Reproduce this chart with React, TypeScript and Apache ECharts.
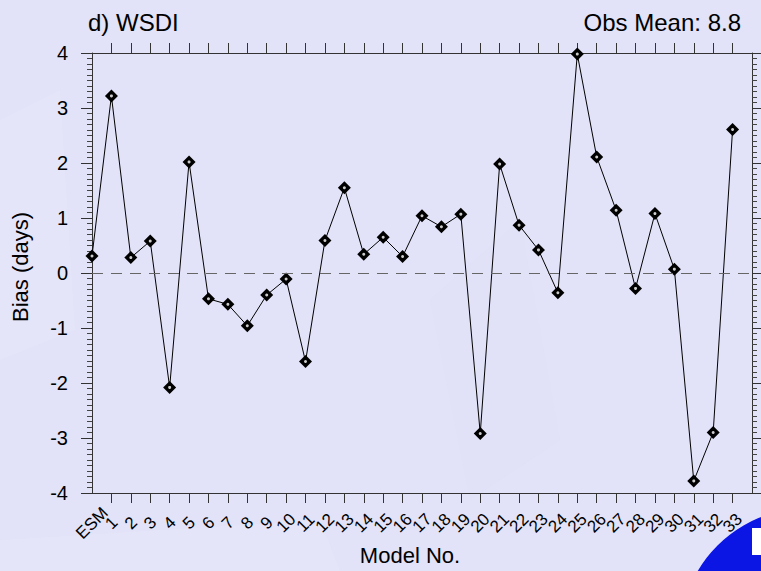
import React, { useEffect, useRef } from "react";
import * as echarts from "echarts";

const modelLabels: string[] = ["ESM", "1", "2", "3", "4", "5", "6", "7", "8", "9", "10", "11", "12", "13", "14", "15", "16", "17", "18", "19", "20", "21", "22", "23", "24", "25", "26", "27", "28", "29", "30", "31", "32", "33"];
const biasValues: number[] = [0.31, 3.22, 0.28, 0.58, -2.08, 2.02, -0.47, -0.57, -0.96, -0.4, -0.11, -1.61, 0.59, 1.55, 0.34, 0.65, 0.3, 1.04, 0.84, 1.07, -2.92, 1.98, 0.87, 0.42, -0.36, 3.98, 2.11, 1.14, -0.28, 1.08, 0.07, -3.78, -2.9, 2.61];
const yTicks: number[] = [-4, -3, -2, -1, 0, 1, 2, 3, 4];
const titleText = "d) WSDI";
const obsMeanText = "Obs Mean: 8.8";
const yAxisTitle = "Bias (days)";
const xAxisTitle = "Model No.";

const FONT = "'Liberation Sans', Arial, Helvetica, sans-serif";
const AXIS_COLOR = "#333";

export default function App() {
  const ref = useRef<HTMLDivElement>(null);
  useEffect(() => {
    if (!ref.current) return;
    const chart = echarts.init(ref.current, undefined, { renderer: "svg" });
    const idx = modelLabels.map((_, i) => i);
    const tickIdx = idx.slice(1);
    const evenIdx = idx.filter((i) => i % 2 === 0);
    const oddIdx = idx.filter((i) => i % 2 === 1);
    const points = biasValues.map((v, i) => [i, v]);
    const labelStyle = {
      show: true,
      showMinLabel: true,
      showMaxLabel: true,
      formatter: (v: number) => modelLabels[Math.round(v)] ?? "",
      rotate: 45,
      align: "center",
      verticalAlign: "middle",
      margin: 30,
      fontSize: 17,
      color: "#000",
      fontFamily: FONT,
    };
    const xBase = {
      type: "value" as const,
      min: 0,
      max: modelLabels.length,
      interval: 1,
      splitLine: { show: false },
      axisLine: { show: true, onZero: false, lineStyle: { color: AXIS_COLOR, width: 1 } },
      axisTick: { show: true, inside: false, length: 10, customValues: tickIdx, lineStyle: { color: AXIS_COLOR, width: 1 } },
    };
    const yBase = {
      type: "value" as const,
      min: -4,
      max: 4,
      interval: 1,
      splitLine: { show: false },
      axisLine: { show: true, onZero: false, lineStyle: { color: AXIS_COLOR, width: 1 } },
      axisTick: { show: true, inside: false, length: 11, lineStyle: { color: AXIS_COLOR, width: 1 } },
      minorTick: { show: true, splitNumber: 10, length: 5, lineStyle: { color: "#444", width: 1 } },
    };
    chart.setOption({
      animation: false,
      backgroundColor: "#E2E2F8",
      grid: { left: 92, right: 9, top: 53, bottom: 78, containLabel: false },
      xAxis: [
        { ...xBase, position: "bottom", axisLabel: { ...labelStyle, customValues: evenIdx } },
        { ...xBase, position: "top", axisLabel: { show: false } },
        {
          ...xBase,
          position: "bottom",
          axisLine: { show: false },
          axisTick: { show: false },
          axisLabel: { ...labelStyle, customValues: oddIdx },
        },
      ],
      yAxis: [
        {
          ...yBase,
          position: "left",
          axisLabel: {
            show: true,
            customValues: yTicks,
            showMinLabel: true,
            showMaxLabel: true,
            margin: 24,
            fontSize: 20,
            color: "#000",
            fontFamily: FONT,
          },
        },
        { ...yBase, position: "right", axisLabel: { show: false } },
      ],
      series: [
        {
          type: "line",
          xAxisIndex: 0,
          yAxisIndex: 0,
          data: points,
          clip: false,
          symbol: "diamond",
          symbolSize: 13,
          lineStyle: { color: "#000", width: 1 },
          itemStyle: { color: "#000", borderColor: "#000", borderWidth: 0 },
          markLine: {
            silent: true,
            symbol: "none",
            label: { show: false },
            lineStyle: { color: "#666", width: 1, type: [11, 8] },
            data: [{ yAxis: 0 }],
          },
          z: 2,
        },
        {
          type: "scatter",
          xAxisIndex: 0,
          yAxisIndex: 0,
          data: points,
          clip: false,
          symbol: "circle",
          symbolSize: 3,
          itemStyle: { color: "#fff" },
          z: 3,
        },
      ],
      graphic: [
        {
          type: "polygon",
          shape: { points: [[0, 120], [60, 90], [75, 330], [0, 360]] },
          style: { fill: "#E8E8FA", opacity: 0.6 },
          z: -2,
          silent: true,
        },
        {
          type: "polygon",
          shape: { points: [[0, 540], [320, 520], [340, 571], [0, 571]] },
          style: { fill: "#E7E7FA", opacity: 0.6 },
          z: -2,
          silent: true,
        },
        {
          type: "polygon",
          shape: { points: [[430, 300], [520, 220], [560, 440], [470, 500]] },
          style: { fill: "#DDDDF6", opacity: 0.3 },
          z: -2,
          silent: true,
        },
        {
          type: "circle",
          shape: { cx: 808, cy: 636, r: 128 },
          style: { fill: "#0B16E4" },
          z: -1,
        },
        {
          type: "rect",
          shape: { x: 752, y: 528, width: 12, height: 27 },
          style: { fill: "#fff" },
          z: -1,
        },
        {
          type: "text",
          x: 88,
          y: 22,
          style: { text: titleText, fontSize: 24, fontFamily: FONT, fill: "#000", align: "left", verticalAlign: "middle" },
        },
        {
          type: "text",
          x: 741,
          y: 22,
          style: { text: obsMeanText, fontSize: 24, fontFamily: FONT, fill: "#000", align: "right", verticalAlign: "middle" },
        },
        {
          type: "text",
          x: 20,
          y: 267,
          rotation: Math.PI / 2,
          style: { text: yAxisTitle, fontSize: 22, fontFamily: FONT, fill: "#000", align: "center", verticalAlign: "middle" },
        },
        {
          type: "text",
          x: 410,
          y: 555,
          style: { text: xAxisTitle, fontSize: 22, fontFamily: FONT, fill: "#000", align: "center", verticalAlign: "middle" },
        },
      ],
    });
    return () => chart.dispose();
  }, []);
  return <div ref={ref} style={{ position: "fixed", left: 0, top: 0, width: 761, height: 571 }} />;
}
